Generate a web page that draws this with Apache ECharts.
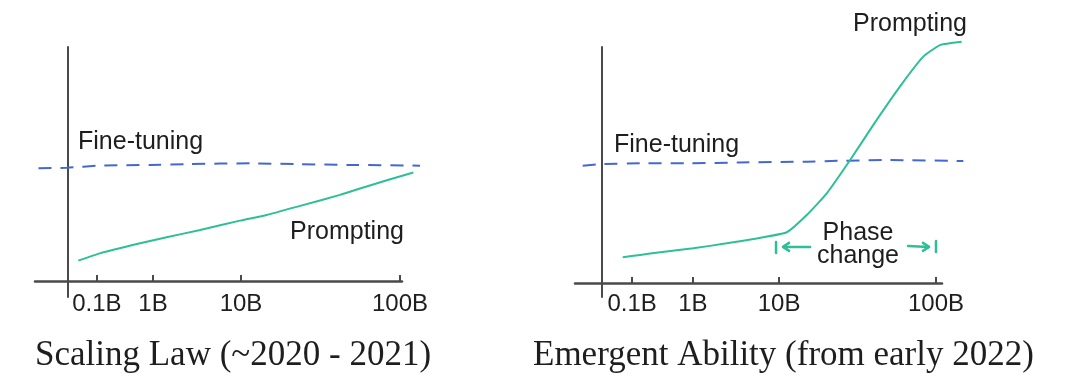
<!DOCTYPE html>
<html><head><meta charset="utf-8">
<script src="https://cdn.jsdelivr.net/npm/echarts@6/dist/echarts.min.js"></script>
<style>html,body{margin:0;padding:0;background:#fff}#c{width:1080px;height:384px}</style>
</head><body><div id="c"></div>
<script>
// ---- data (sketch units: y-axis at x=0, 100B tick at x=100; x-axis at y=0, axis top = 100) ----
const tickLabels = ['0.1B', '1B', '10B', '100B'];
const leftTickPos = [8.7, 25.6, 52.1, 100];
const rightTickPos = [9.0, 27.2, 53.0, 100];

const leftPromptX = [3.1, 9.6, 21.7, 29.7, 39.8, 51.8, 59.8, 69.9, 81.9, 89.9, 104.0];
const leftPromptY = [8.7, 11.8, 16.1, 18.7, 21.8, 25.8, 28.2, 32.1, 36.8, 40.4, 46.4];
const leftFineX = [-8.9, -0.4, 9.6, 24.7, 36.7, 54.8, 69.9, 84.9, 106.0];
const leftFineY = [48.2, 48.4, 49.3, 49.6, 50.0, 50.3, 49.9, 49.6, 49.3];

const rightPromptX = [6.2, 11.4, 17.4, 27.3, 37.3, 46.3, 55.3, 61.3, 67.3, 74.3, 81.2, 89.2, 96.2, 101.2, 107.7];
const rightPromptY = [10.9, 11.9, 13.0, 14.7, 16.8, 18.9, 21.5, 28.8, 38.0, 52.1, 66.9, 83.2, 95.9, 100.8, 102.2];
const rightFineX = [-5.8, 0.4, 11.4, 26.3, 41.3, 61.3, 71.3, 86.2, 108.2];
const rightFineY = [49.7, 50.4, 50.7, 50.7, 51.1, 51.4, 51.8, 52.1, 51.7];

const phaseRange = [52.1, 100.0]; // x (sketch units) of the phase-change brackets
const phaseY = 15.3;

const titles = ['Scaling Law (~2020 - 2021)', 'Emergent Ability (from early 2022)'];

// ---- styles ----
const GREEN = '#2fbf98';
const BLUE = '#4468cf';
const AXIS = '#4a4a4a';
const TXT = '#1e1e1e';
const SANS = '"Liberation Sans", Arial, sans-serif';
const SERIF = '"Liberation Serif", "Times New Roman", serif';

const zip = (xs, ys) => xs.map((x, i) => [x, ys[i]]);

function xAxisCfg(gi, ticks, min, max, visible) {
  return {
    gridIndex: gi, type: 'value', min: min, max: max, show: visible,
    axisLine: { show: true, onZero: true, lineStyle: { color: AXIS, width: 2.5 } },
    axisTick: { show: true, inside: true, length: 6, customValues: ticks, lineStyle: { color: AXIS, width: 2 } },
    axisLabel: {
      show: true, customValues: ticks, margin: -5, fontSize: 24, color: TXT, fontFamily: SANS,
      formatter: v => { let bi = 0, bd = 1e9; ticks.forEach((t, i) => { const d = Math.abs(t - v); if (d < bd) { bd = d; bi = i; } }); return tickLabels[bi]; }
    },
    splitLine: { show: false }
  };
}
function yAxisCfg(gi, min, max, visible) {
  return {
    gridIndex: gi, type: 'value', min: min, max: max, show: visible,
    axisLine: { show: true, onZero: true, lineStyle: { color: AXIS, width: 2 } },
    axisTick: { show: false }, axisLabel: { show: false }, splitLine: { show: false }
  };
}
function lineSeries(gi, data, color, dashed) {
  return {
    type: 'line', xAxisIndex: gi, yAxisIndex: gi, data: data, smooth: 0.15,
    showSymbol: false, symbol: 'none', clip: false, silent: true,
    lineStyle: { color: color, width: 2, type: dashed ? [13, 9] : 'solid' }
  };
}
function txt(text, x, y, size, family, align) {
  return { type: 'text', x: x, y: y, silent: true,
    style: { text: text, font: size + 'px ' + family, fill: TXT, textAlign: align || 'left', align: align || 'left', textVerticalAlign: 'middle', verticalAlign: 'middle' } };
}

const chart = echarts.init(document.getElementById('c'), null, { renderer: 'canvas' });
chart.setOption({
  backgroundColor: '#fff',
  animation: false,
  grid: [
    // axis frames
    { left: 35, top: 47, width: 367, height: 250 },
    { left: 575, top: 47, width: 367, height: 250 },
    // same scales, wider, for the hand-drawn curves that run past the axis end
    { left: 35, top: 47, width: 387, height: 250 },
    { left: 575, top: 47, width: 390, height: 250 }
  ],
  xAxis: [
    xAxisCfg(0, leftTickPos, -9.94, 100.6, true),
    xAxisCfg(1, rightTickPos, -8.1, 101.8, true),
    xAxisCfg(2, leftTickPos, -9.94, 106.6, false),
    xAxisCfg(3, rightTickPos, -8.1, 108.7, false)
  ],
  yAxis: [
    yAxisCfg(0, -6.84, 100, true), yAxisCfg(1, -5.93, 100, true),
    yAxisCfg(2, -6.84, 100, false), yAxisCfg(3, -5.93, 100, false)
  ],
  series: [
    lineSeries(2, zip(leftFineX, leftFineY), BLUE, true),
    lineSeries(2, zip(leftPromptX, leftPromptY), GREEN, false),
    lineSeries(3, zip(rightFineX, rightFineY), BLUE, true),
    lineSeries(3, zip(rightPromptX, rightPromptY), GREEN, false)
  ]
});

// annotation positioned through the right panel's scales
const pA = chart.convertToPixel({ gridIndex: 1 }, [phaseRange[0], phaseY]);
const pB = chart.convertToPixel({ gridIndex: 1 }, [phaseRange[1], phaseY]);
const ls = { stroke: GREEN, lineWidth: 2.5, lineCap: 'round', lineJoin: 'round', fill: null };
const g = [
  txt('Fine-tuning', 78, 142, 25, SANS),
  txt('Prompting', 290, 232, 25, SANS),
  txt('Fine-tuning', 614, 145, 25, SANS),
  txt('Prompting', 853, 24, 25, SANS),
  txt('Phase', 858, 233, 25, SANS, 'center'),
  txt('change', 858, 256, 25, SANS, 'center'),
  txt(titles[0], 35, 356, 35, SERIF),
  txt(titles[1], 533, 356, 35, SERIF),
  { type: 'line', silent: true, shape: { x1: pA[0], y1: pA[1] - 5, x2: pA[0], y2: pA[1] + 6 }, style: ls },
  { type: 'line', silent: true, shape: { x1: pB[0], y1: pB[1] - 6, x2: pB[0], y2: pB[1] + 5 }, style: ls },
  { type: 'polyline', silent: true, shape: { points: [[pA[0] + 34, pA[1]], [pA[0] + 7, pA[1]]] }, style: ls },
  { type: 'polyline', silent: true, shape: { points: [[pA[0] + 13, pA[1] - 4], [pA[0] + 7, pA[1]], [pA[0] + 13, pA[1] + 4]] }, style: ls },
  { type: 'polyline', silent: true, shape: { points: [[pB[0] - 28, pB[1] - 1], [pB[0] - 7, pB[1]]] }, style: ls },
  { type: 'polyline', silent: true, shape: { points: [[pB[0] - 13, pB[1] - 4], [pB[0] - 7, pB[1]], [pB[0] - 13, pB[1] + 4]] }, style: ls }
];
chart.setOption({ graphic: { elements: g } });
</script>
</body></html>
